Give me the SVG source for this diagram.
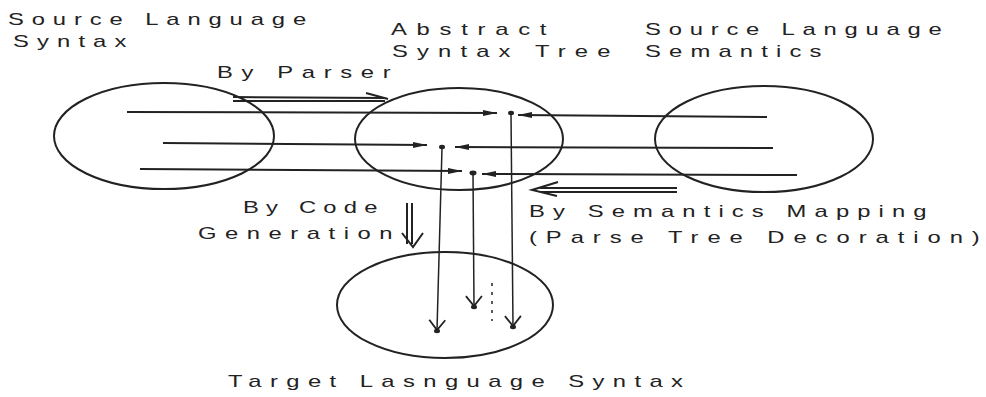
<svg xmlns="http://www.w3.org/2000/svg" width="986" height="397" viewBox="0 0 986 397">
<style>
.n{fill:none;stroke:#222;stroke-width:2}
.t{font-family:"Liberation Sans",Arial,sans-serif;font-size:17px;fill:#222}
.c{fill:none;stroke:#222;stroke-width:2}
.v{fill:none;stroke:#222;stroke-width:1.5}
.d{fill:#222}
</style>
<defs>
<marker id="ah" markerUnits="userSpaceOnUse" markerWidth="16" markerHeight="8" refX="14" refY="4" orient="auto">
<path d="M0,1 L14,4 L0,7 Z" fill="#222"/>
</marker>
<marker id="vee" markerUnits="userSpaceOnUse" markerWidth="24" markerHeight="24" refX="12" refY="12" orient="auto">
<path d="M2,4 L12,12 L2,20" fill="none" stroke="#222" stroke-width="1.8"/>
</marker>
</defs>
<rect width="986" height="397" fill="#fff"/>
<g id="source-syntax">
<ellipse class="n" cx="164" cy="136" rx="110" ry="53"/>
<text class="t" transform="matrix(1.4 0 0 1 8 25)" textLength="213" lengthAdjust="spacing">Source Language</text>
<text class="t" transform="matrix(1.4 0 0 1 13 47)" textLength="81" lengthAdjust="spacing">Syntax</text>
</g>
<g id="ast">
<ellipse class="n" cx="459" cy="139" rx="104" ry="51"/>
<text class="t" transform="matrix(1.4 0 0 1 391 35)" textLength="111" lengthAdjust="spacing">Abstract</text>
<text class="t" transform="matrix(1.4 0 0 1 392 57)" textLength="156" lengthAdjust="spacing">Syntax Tree</text>
</g>
<g id="source-semantics">
<ellipse class="n" cx="764" cy="139" rx="109" ry="53"/>
<text class="t" transform="matrix(1.4 0 0 1 645 35)" textLength="212" lengthAdjust="spacing">Source Language</text>
<text class="t" transform="matrix(1.4 0 0 1 645 57)" textLength="126" lengthAdjust="spacing">Semantics</text>
</g>
<g id="target-syntax">
<ellipse class="n" cx="445" cy="305" rx="108" ry="53"/>
<text class="t" transform="matrix(1.4 0 0 1 228 387)" textLength="325" lengthAdjust="spacing">Target Lasnguage Syntax</text>
</g>
<g id="connectors">
<line class="c" x1="127" y1="112" x2="497" y2="113" marker-end="url(#ah)"/>
<line class="c" x1="767" y1="117" x2="518" y2="115" marker-end="url(#ah)"/>
<line class="c" x1="163" y1="143" x2="427" y2="145" marker-end="url(#ah)"/>
<line class="c" x1="773" y1="148" x2="455" y2="147" marker-end="url(#ah)"/>
<line class="c" x1="140" y1="169" x2="462" y2="171" marker-end="url(#ah)"/>
<line class="c" x1="797" y1="175" x2="482" y2="174" marker-end="url(#ah)"/>
<ellipse class="d" cx="511" cy="113" rx="3" ry="2.2"/>
<ellipse class="d" cx="442" cy="147" rx="3" ry="2.2"/>
<ellipse class="d" cx="473" cy="173" rx="3.5" ry="2.4"/>
<line class="v" x1="442" y1="148" x2="437" y2="330" marker-end="url(#vee)"/>
<line class="v" x1="473" y1="174" x2="474" y2="306" marker-end="url(#vee)"/>
<line class="v" x1="511" y1="114" x2="513" y2="326" marker-end="url(#vee)"/>
<ellipse class="d" cx="437" cy="331" rx="3" ry="2.2"/>
<ellipse class="d" cx="474" cy="307" rx="3" ry="2.2"/>
<ellipse class="d" cx="513" cy="327" rx="3" ry="2.2"/>
<line x1="492" y1="283" x2="492" y2="321" stroke="#222" stroke-width="1.5" stroke-dasharray="3 6"/>
<g id="parser-arrow">
<line class="c" x1="233" y1="97" x2="385" y2="98" stroke-width="1.6"/>
<line class="c" x1="233" y1="101" x2="385" y2="101" stroke-width="1.6"/>
<path class="c" d="M366,93 L388,99" stroke-width="1.6"/>
<text class="t" transform="matrix(1.4 0 0 1 217 78)" textLength="124" lengthAdjust="spacing">By Parser</text>
</g>
<g id="semantics-arrow">
<line class="c" x1="540" y1="188" x2="677" y2="188" stroke-width="1.6"/>
<line class="c" x1="540" y1="192" x2="677" y2="192" stroke-width="1.6"/>
<path class="c" d="M558,182 L532,190 L557,196" stroke-width="1.6"/>
<text class="t" transform="matrix(1.4 0 0 1 529 217)" textLength="284" lengthAdjust="spacing">By Semantics Mapping</text>
<text class="t" transform="matrix(1.4 0 0 1 529 243)" textLength="322" lengthAdjust="spacing">(Parse Tree Decoration)</text>
</g>
<g id="codegen-arrow">
<line class="c" x1="407" y1="203" x2="407" y2="244" stroke-width="1.6"/>
<line class="c" x1="412" y1="203" x2="412" y2="244" stroke-width="1.6"/>
<path class="c" d="M402,233 L413,247 L423,233" stroke-width="1.6"/>
<text class="t" transform="matrix(1.4 0 0 1 243 213)" textLength="96" lengthAdjust="spacing">By Code</text>
<text class="t" transform="matrix(1.4 0 0 1 198 239)" textLength="139" lengthAdjust="spacing">Generation</text>
</g>
</g>
</svg>
